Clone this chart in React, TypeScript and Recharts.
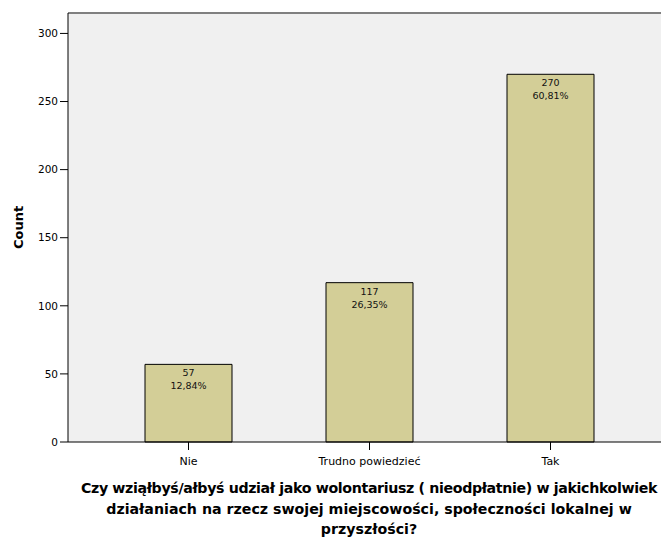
import React from "react";
import {
  BarChart,
  Bar,
  XAxis,
  YAxis,
  CartesianGrid,
  ReferenceLine,
  LabelList,
} from "recharts";

const categories = ["Nie", "Trudno powiedzieć", "Tak"];
const counts = [57, 117, 270];
const percents = ["12,84%", "26,35%", "60,81%"];
const yTicks = [0, 50, 100, 150, 200, 250, 300];
const yMax = 315;
const titleLines = [
  "Czy wziąłbyś/ałbyś udział jako wolontariusz ( nieodpłatnie) w jakichkolwiek",
  "działaniach na rzecz swojej miejscowości, społeczności lokalnej w",
  "przyszłości?",
];

const data = categories.map((name, i) => ({
  name,
  count: counts[i],
  pct: percents[i],
}));

const FONT = "'DejaVu Sans', Verdana, sans-serif";

function BarLabel(props: any) {
  const { x, y, width, index } = props;
  const cx = x + width / 2;
  return (
    <g>
      <text x={cx} y={y + 12} textAnchor="middle" fontSize={9.5} fill="#111" fontFamily={FONT}>
        {counts[index]}
      </text>
      <text x={cx} y={y + 25} textAnchor="middle" fontSize={9.5} fill="#111" fontFamily={FONT}>
        {percents[index]}
      </text>
    </g>
  );
}

function CountLabel(props: any) {
  const vb = props.viewBox;
  const cx = vb.x + 10;
  const cy = vb.y + vb.height / 2;
  return (
    <text
      transform={`translate(${cx}, ${cy}) rotate(-90)`}
      textAnchor="middle"
      dominantBaseline="central"
      fontSize={13}
      fontWeight="bold"
      fill="#000"
      fontFamily={FONT}
    >
      Count
    </text>
  );
}

export default function App() {
  return (
    <div style={{ position: "relative", width: 661, height: 538, overflow: "hidden", background: "#fff" }}>
      <style>{`body{margin:0}`}</style>
      <BarChart
        width={672}
        height={538}
        data={data}
        margin={{ top: 13, right: 1, left: 8, bottom: 0 }}
      >
        <CartesianGrid fill="#f0f0f0" horizontal={false} vertical={false} />
        <ReferenceLine y={yMax} stroke="#808080" strokeWidth={2} ifOverflow="extendDomain" />
        <XAxis
          dataKey="name"
          height={96}
          padding={{ left: 30, right: 30 }}
          tickSize={8}
          tickMargin={7}
          tick={{ fill: "#000", fontSize: 11, fontFamily: FONT }}
          axisLine={{ stroke: "#000" }}
          tickLine={{ stroke: "#000" }}
        />
        <YAxis
          width={60}
          domain={[0, yMax]}
          ticks={yTicks}
          tickSize={8}
          tickMargin={2}
          tick={{ fill: "#000", fontSize: 10.5, fontFamily: FONT }}
          axisLine={{ stroke: "#000" }}
          tickLine={{ stroke: "#000" }}
          label={{ content: CountLabel }}
        />
        <Bar
          dataKey="count"
          fill="#d3ce97"
          stroke="#000"
          strokeWidth={1}
          barSize={87}
          isAnimationActive={false}
        >
          <LabelList dataKey="count" content={BarLabel} />
        </Bar>
      </BarChart>
      <div
        style={{
          position: "absolute",
          left: 19,
          top: 478,
          width: 700,
          textAlign: "center",
          fontFamily: FONT,
          fontWeight: "bold",
          fontSize: 14.2,
          lineHeight: "20.5px",
          whiteSpace: "nowrap",
          color: "#000",
        }}
      >
        {titleLines.map((l, i) => (
          <div key={i} style={i === 0 ? { letterSpacing: -0.36 } : undefined}>
            {l}
          </div>
        ))}
      </div>
    </div>
  );
}
